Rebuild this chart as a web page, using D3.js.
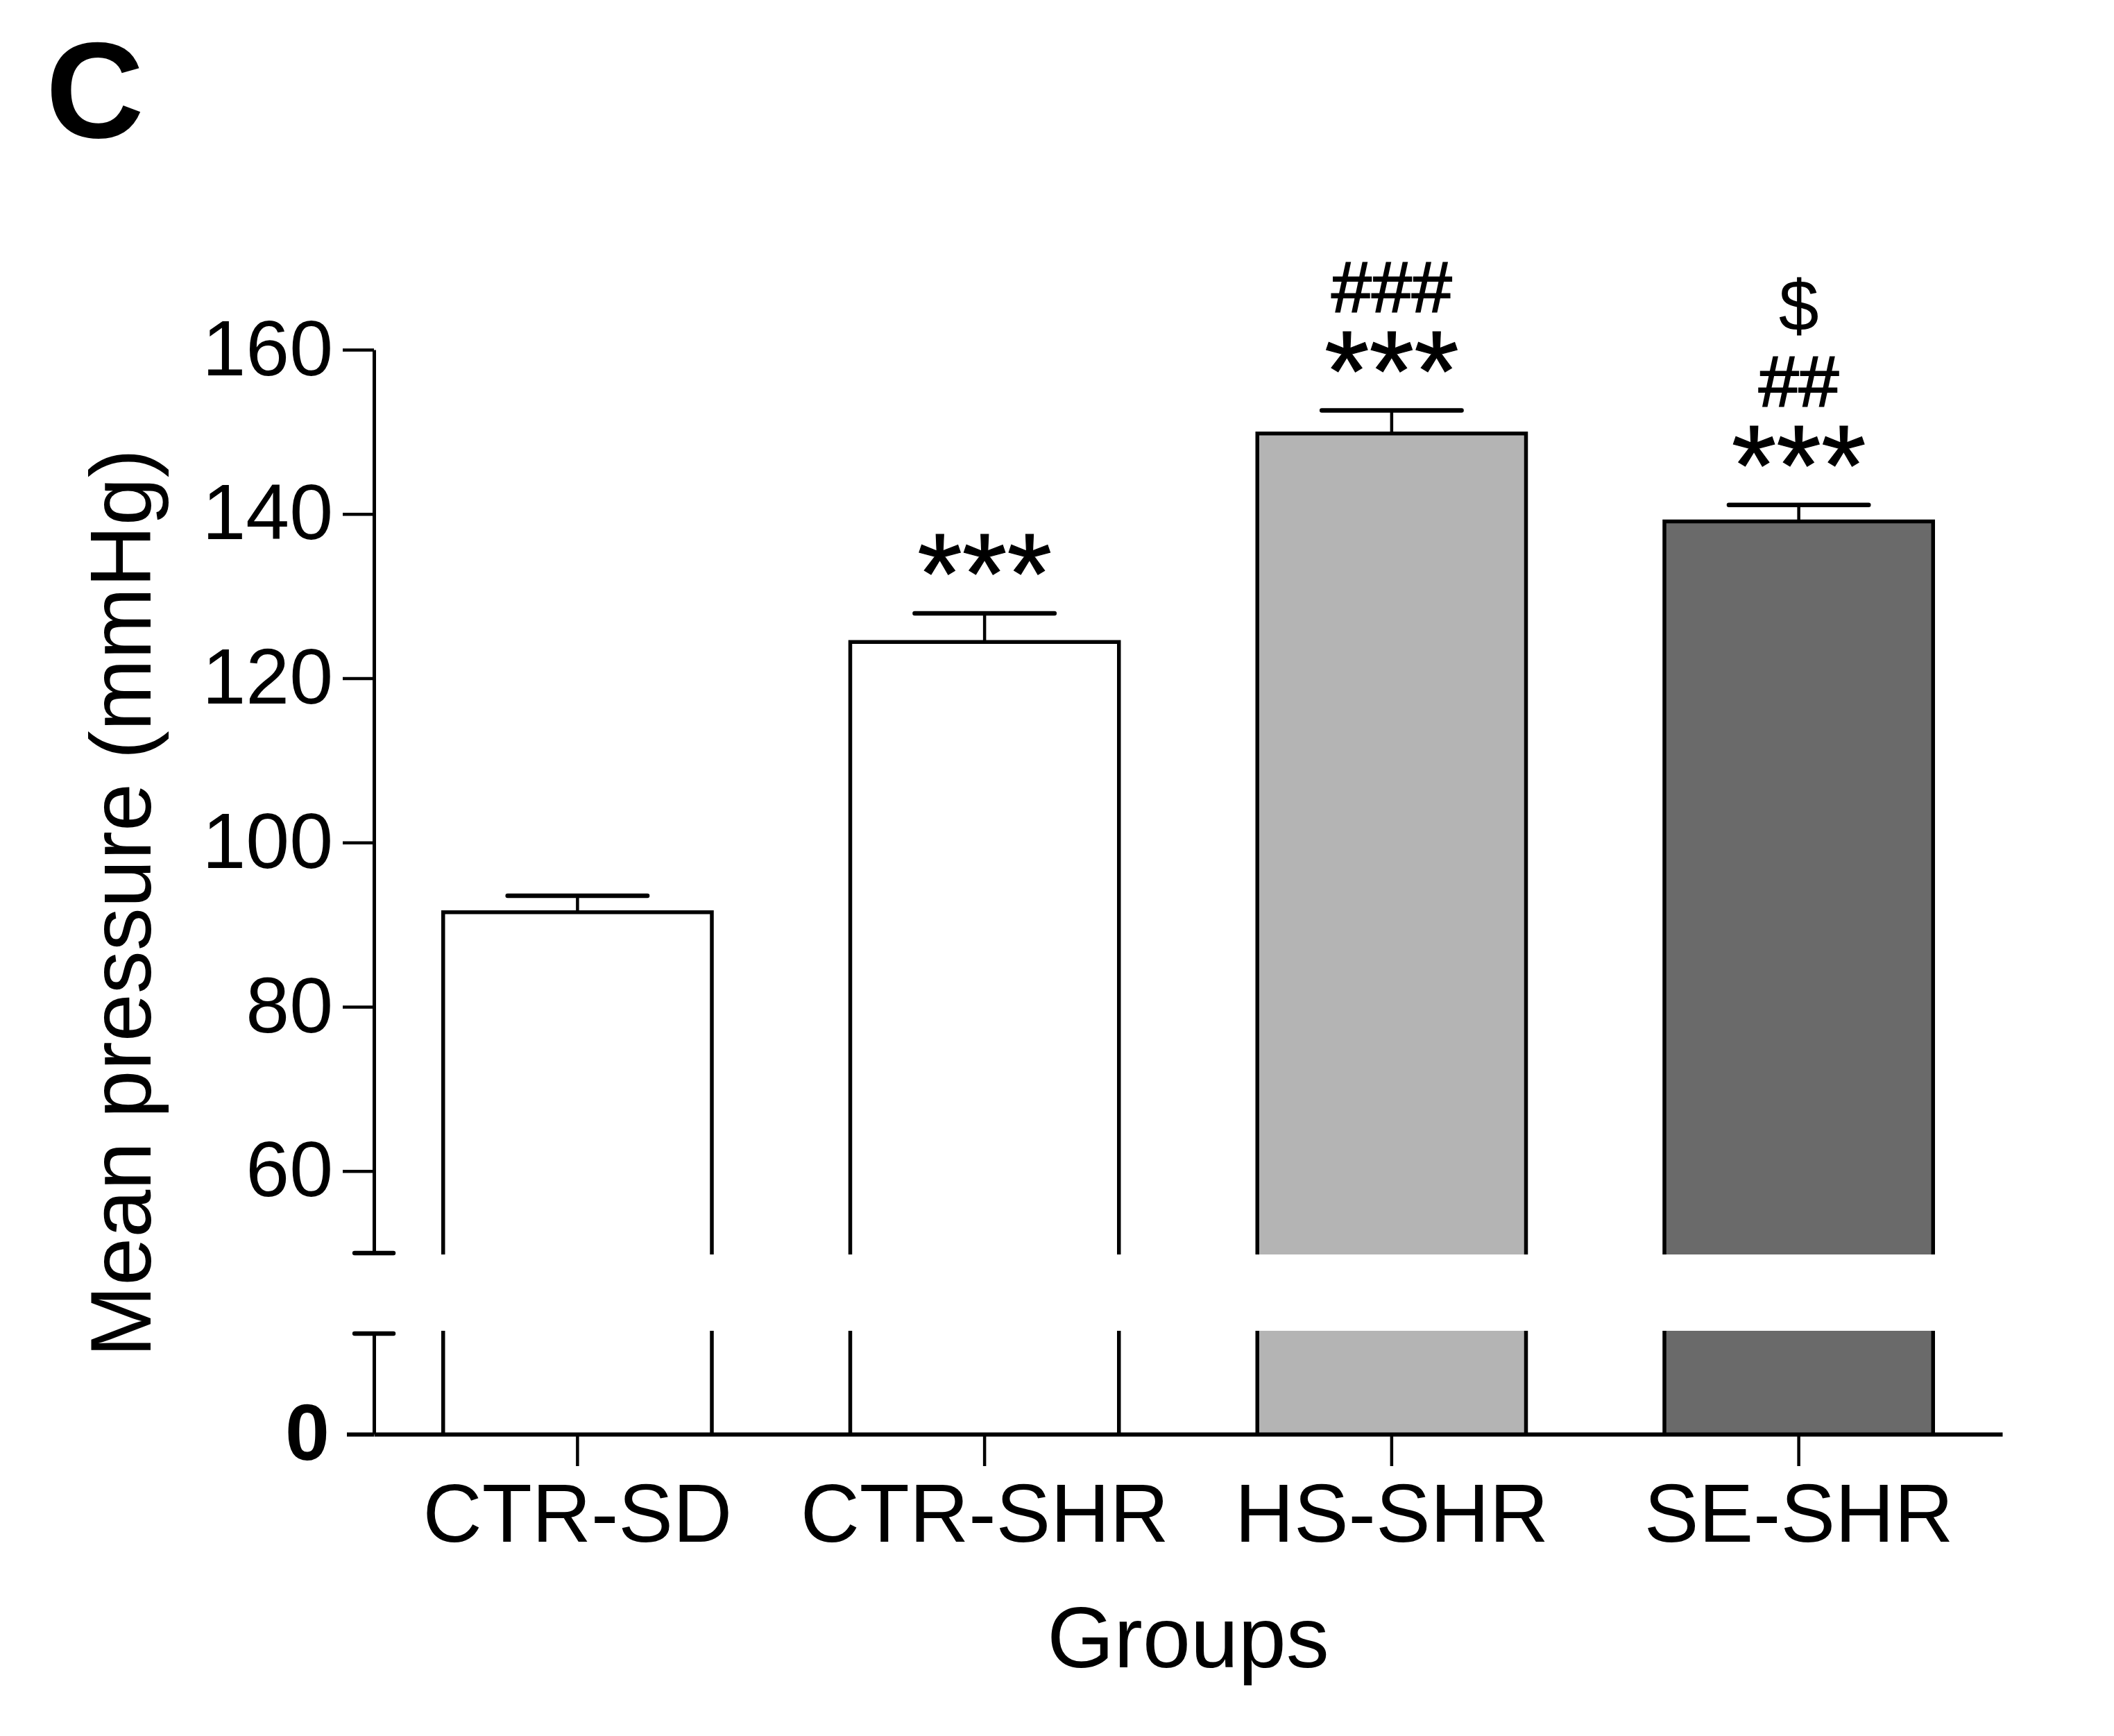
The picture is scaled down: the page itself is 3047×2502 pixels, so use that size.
<!DOCTYPE html>
<html>
<head>
<meta charset="utf-8">
<script src="https://cdn.jsdelivr.net/npm/d3@7"></script>
<style>
  body { margin: 0; background: #fff; }
  text { font-family: "Liberation Sans", Arial, sans-serif; fill: #000; }
</style>
</head>
<body>
<svg></svg>
<script>
// Data
const groups = ['CTR-SD', 'CTR-SHR', 'HS-SHR', 'SE-SHR'];
const means = [91.5, 124.4, 149.8, 139.1];
const sems = [2.0, 3.5, 2.8, 2.0];
const fills = ['#ffffff', '#ffffff', '#b4b4b4', '#6a6a6a'];
const stars = ['', '***', '***', '***'];
const marks = [[], [], ['###'], ['##', '$']];
const yTicks = [60, 80, 100, 120, 140, 160];

const width = 3047, height = 2502;
const svg = d3.select('svg')
    .attr('width', width)
    .attr('height', height);

// axis geometry
const axisX = 539, axisRight = 2886;
const x = d3.scaleBand()
    .domain(groups)
    .range([axisX, axisRight])
    .paddingInner(0.34)
    .paddingOuter(0.17);

// upper (broken) segment and lower segment near zero
const yTop = d3.scaleLinear().domain([50, 160]).range([1806, 504]);
const lowMax = 12.2;
const yLow = d3.scaleLinear().domain([0, lowMax]).range([2067, 1922]);

const bars = svg.append('g');
groups.forEach((g, i) => {
    const x0 = x(g), x1 = x(g) + x.bandwidth();
    const top = yTop(means[i]);
    // fill pieces
    bars.append('rect')
        .attr('x', x0).attr('y', top)
        .attr('width', x.bandwidth()).attr('height', yTop(50) - top + 2)
        .attr('fill', fills[i]);
    bars.append('rect')
        .attr('x', x0).attr('y', yLow(lowMax) - 4)
        .attr('width', x.bandwidth()).attr('height', yLow(0) - yLow(lowMax) + 4)
        .attr('fill', fills[i]);
    // outlines (no edge at the break)
    bars.append('path')
        .attr('d', `M${x0},${yTop(50) + 2}V${top}H${x1}V${yTop(50) + 2}`)
        .attr('fill', 'none').attr('stroke', '#000').attr('stroke-width', 5.5);
    bars.append('path')
        .attr('d', `M${x0},${yLow(lowMax) - 4}V${yLow(0)}M${x1},${yLow(lowMax) - 4}V${yLow(0)}`)
        .attr('fill', 'none').attr('stroke', '#000').attr('stroke-width', 5.5);

    // error bar (upper half only)
    const cx = x0 + x.bandwidth() / 2;
    const cap = yTop(means[i] + sems[i]);
    const capW = x.bandwidth() * 0.52;
    bars.append('line')
        .attr('x1', cx).attr('x2', cx).attr('y1', top).attr('y2', cap)
        .attr('stroke', '#000').attr('stroke-width', 4.5);
    bars.append('line')
        .attr('x1', cx - capW / 2).attr('x2', cx + capW / 2).attr('y1', cap).attr('y2', cap)
        .attr('stroke', '#000').attr('stroke-width', 6.5).attr('stroke-linecap', 'round');

    // significance marks, stacked in one text
    if (stars[i]) {
        const t = bars.append('text').attr('text-anchor', 'middle');
        t.append('tspan')
            .attr('x', cx).attr('y', cap)
            .style('font-size', '166px')
            .style('stroke', '#000').style('stroke-width', 1.2)
            .text(stars[i]);
        marks[i].forEach((m, k) => {
            t.append('tspan')
                .attr('x', cx).attr('y', cap - 142 - 110 * k)
                .style('font-size', '104px')
                .style('stroke', '#000').style('stroke-width', m === '$' ? 0 : 2)
                .text(m);
        });
    }
});

// y axis, upper segment
const yAxisTop = svg.append('g')
    .attr('transform', `translate(${axisX},0)`)
    .call(d3.axisLeft(yTop).tickValues(yTicks).tickSize(45).tickSizeOuter(0).tickPadding(14));
yAxisTop.selectAll('text').style('font-size', '113px');

// y axis, lower segment with bold zero
const yAxisLow = svg.append('g')
    .attr('transform', `translate(${axisX},0)`)
    .call(d3.axisLeft(yLow).tickValues([0]).tickSize(39).tickSizeOuter(0).tickPadding(25).tickFormat(d3.format('d')));
yAxisLow.selectAll('text').style('font-size', '115px').style('font-weight', 'bold');

// x axis
const xAxis = svg.append('g')
    .attr('transform', `translate(0,${yLow(0)})`)
    .call(d3.axisBottom(x).tickSize(46).tickSizeOuter(0).tickPadding(25));
xAxis.selectAll('text').style('font-size', '118px');

svg.selectAll('.domain').attr('stroke', '#000').attr('stroke-width', 5);
svg.selectAll('.tick line').attr('stroke', '#000').attr('stroke-width', 4.5);
xAxis.select('.domain').attr('stroke-width', 6);
yAxisLow.select('.tick line').attr('stroke-width', 6);

// break caps on the y axis
[yTop(50), yLow(lowMax)].forEach(yy => {
    svg.append('line')
        .attr('x1', axisX - 28).attr('x2', axisX + 28)
        .attr('y1', yy).attr('y2', yy)
        .attr('stroke', '#000').attr('stroke-width', 6.5).attr('stroke-linecap', 'round');
});

// axis titles
svg.append('text')
    .attr('transform', `translate(217,${(504 + 2067) / 2 + 16}) rotate(-90)`)
    .attr('text-anchor', 'middle')
    .style('font-size', '124px')
    .text('Mean pressure (mmHg)');

svg.append('text')
    .attr('x', (axisX + axisRight) / 2)
    .attr('y', 2403)
    .attr('text-anchor', 'middle')
    .style('font-size', '124px')
    .text('Groups');

// panel letter
svg.append('text')
    .attr('x', 66).attr('y', 198)
    .style('font-size', '196px')
    .style('font-weight', 'bold')
    .text('C');
</script>
</body>
</html>
